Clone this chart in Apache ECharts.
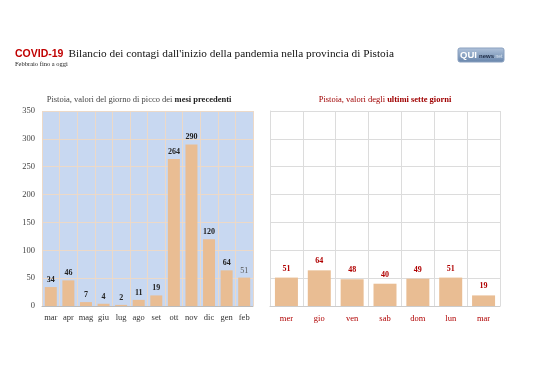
<!DOCTYPE html>
<html><head><meta charset="utf-8">
<script src="https://cdn.jsdelivr.net/npm/echarts@6/dist/echarts.min.js"></script>
<style>html,body{margin:0;padding:0;background:#fff}#c{width:538px;height:380px}</style>
</head><body><div id="c"></div>
<script>
const monthCats = ['mar','apr','mag','giu','lug','ago','set','ott','nov','dic','gen','feb'];
const monthVals = [34,46,7,4,2,11,19,264,290,120,64,51];
const dayCats = ['mer','gio','ven','sab','dom','lun','mar'];
const dayVals = [51,64,48,40,49,51,19];
const yTicks = [0,50,100,150,200,250,300,350];

const serif = '"Liberation Serif", "DejaVu Serif", serif';
const barColor = '#e9bd93';
const chart = echarts.init(document.getElementById('c'));
chart.setOption({
  animation:false,
  title:[
    {text:'{a|COVID-19} {b|Bilancio dei contagi dall\'inizio della pandemia nella provincia di Pistoia}',
     left:15, top:45, padding:0,
     textStyle:{fontWeight:'normal', rich:{a:{fontFamily:'"Liberation Sans", sans-serif',fontWeight:'bold',fontSize:10.5,color:'#c00000'},
                      b:{fontFamily:serif,fontWeight:'normal',fontSize:11.3,color:'#111'}}}},
    {text:'Febbraio fino a oggi', left:15, top:61, padding:0, textStyle:{fontFamily:serif,fontSize:6.5,fontWeight:'normal',color:'#222'}},
    {text:'{a|Pistoia, valori del giorno di picco dei }{b|mesi precedenti}', left:139, textAlign:'center', top:95, padding:0,
     textStyle:{fontWeight:'normal', rich:{a:{fontFamily:serif,fontSize:8.5,fontWeight:'normal',color:'#444'},b:{fontFamily:serif,fontSize:8.5,fontWeight:'bold',color:'#222'}}}},
    {text:'{a|Pistoia, valori degli }{b|ultimi sette giorni}', left:385, textAlign:'center', top:95, padding:0,
     textStyle:{fontWeight:'normal', rich:{a:{fontFamily:serif,fontSize:8.5,fontWeight:'normal',color:'#a00000'},b:{fontFamily:serif,fontSize:8.5,fontWeight:'bold',color:'#a00000'}}}}
  ],
  graphic:[
    {type:'rect', shape:{x:458,y:48,width:46,height:14,r:2},
     style:{fill:new echarts.graphic.LinearGradient(0,0,0,1,[{offset:0,color:'#b3c5dc'},{offset:1,color:'#6583aa'}]), stroke:'#8aa0bf'}},
    {type:'text', x:460, y:50, style:{text:'QUI', font:'bold 9.5px "Liberation Sans", sans-serif', fill:'#fff'}},
    {type:'text', x:479, y:53.5, style:{text:'news', font:'bold 6px "Liberation Sans", sans-serif', fill:'#1d2a44'}},
    {type:'text', x:494, y:54, style:{text:'.net', font:'5px "Liberation Sans", sans-serif', fill:'#dde6f0'}}
  ],
  grid:[
    {left:42, top:111, width:211, height:195, backgroundColor:'#c8d8f1', show:true, borderWidth:0},
    {left:270, top:111, width:230, height:195, show:false}
  ],
  xAxis:[
    {gridIndex:0, type:'category', data:monthCats,
     axisLine:{show:true,lineStyle:{color:'#bbb'}}, axisTick:{show:false},
     splitLine:{show:true,interval:0,lineStyle:{color:'#ecd9c8',width:1}},
     axisLabel:{interval:0,fontFamily:serif,fontSize:8.5,color:'#333',margin:7}},
    {gridIndex:1, type:'category', data:dayCats,
     axisLine:{show:true,lineStyle:{color:'#ccc'}}, axisTick:{show:false},
     splitLine:{show:true,interval:0,lineStyle:{color:'#dcdcdc',width:1}},
     axisLabel:{interval:0,fontFamily:serif,fontSize:8.5,color:'#b00000',margin:8}}
  ],
  yAxis:[
    {gridIndex:0, type:'value', min:yTicks[0], max:yTicks[yTicks.length-1], interval:50,
     axisLine:{show:false}, axisTick:{show:false},
     splitLine:{lineStyle:{color:'#ecd9c8',width:1}},
     axisLabel:{fontFamily:serif,fontSize:8.5,color:'#444',margin:7}},
    {gridIndex:1, type:'value', min:yTicks[0], max:yTicks[yTicks.length-1], interval:50,
     axisLine:{show:true,lineStyle:{color:'#dcdcdc'}}, axisTick:{show:false},
     splitLine:{lineStyle:{color:'#dcdcdc',width:1}},
     axisLabel:{show:false}}
  ],
  series:[
    {type:'bar', xAxisIndex:0, yAxisIndex:0, barWidth:12,
     data:monthVals.map((v,i)=> i===monthVals.length-1 ?
        {value:v, label:{fontWeight:'normal', color:'#555'}} : v),
     itemStyle:{color:barColor},
     label:{show:true, position:'top', distance:3, fontFamily:serif, fontSize:8, fontWeight:'bold', color:'#222'}},
    {type:'bar', xAxisIndex:1, yAxisIndex:1, barWidth:23,
     data:dayVals, itemStyle:{color:barColor},
     label:{show:true, position:'top', distance:5, fontFamily:serif, fontSize:8, fontWeight:'bold', color:'#b00000'}}
  ]
});
</script></body></html>
